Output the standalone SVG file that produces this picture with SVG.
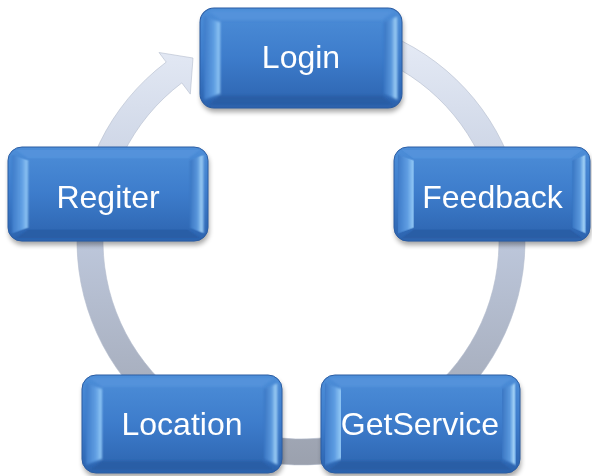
<svg xmlns="http://www.w3.org/2000/svg" xmlns:xlink="http://www.w3.org/1999/xlink" width="592" height="476" viewBox="0 0 592 476">
  <style>
    .lbl { fill: #ffffff; font-family: "Liberation Sans", Arial, sans-serif; font-size: 32px; text-anchor: middle; }
  </style>
  <defs>
    <linearGradient id="ringGrad" gradientUnits="userSpaceOnUse" x1="0" y1="17" x2="0" y2="465">
      <stop offset="0" stop-color="#e9eef8"/>
      <stop offset="0.5" stop-color="#bdc7db"/>
      <stop offset="1" stop-color="#9ba1ae"/>
    </linearGradient>
    <linearGradient id="boxGrad" x1="0" y1="0" x2="0" y2="1">
      <stop offset="0" stop-color="#4d8ed8"/>
      <stop offset="0.5" stop-color="#3d7ccb"/>
      <stop offset="1" stop-color="#2c63ae"/>
    </linearGradient>
    <linearGradient id="leftBev" x1="0" y1="0" x2="1" y2="0">
      <stop offset="0" stop-color="#3f7cc9"/>
      <stop offset="0.6" stop-color="#5e9de2"/>
      <stop offset="1" stop-color="#95caf6"/>
    </linearGradient>
    <linearGradient id="rightBev" x1="0" y1="0" x2="1" y2="0">
      <stop offset="0" stop-color="#3a76c3"/>
      <stop offset="0.55" stop-color="#5a98dd"/>
      <stop offset="0.85" stop-color="#a2d2f6"/>
      <stop offset="1" stop-color="#4f8cd6"/>
    </linearGradient>
    <filter id="shadow" x="-10%" y="-10%" width="120%" height="130%">
      <feGaussianBlur stdDeviation="2.5"/>
    </filter>
    <filter id="soft" x="-10%" y="-10%" width="120%" height="120%">
      <feGaussianBlur stdDeviation="0.8"/>
    </filter>
    <g id="box">
      <rect x="1" y="4" width="200" height="98" rx="14" fill="#000" opacity="0.35" filter="url(#shadow)"/>
      <rect x="0" y="0" width="200" height="98" rx="14" fill="url(#boxGrad)" stroke="#2a5ca3" stroke-width="1"/>
      <g filter="url(#soft)">
        <polygon points="8,3 192,3 180,12 20,12" fill="#5594dc" opacity="0.8"/>
        <polygon points="8,95 192,95 180,86 20,86" fill="#2a5ca4" opacity="0.9"/>
        <polygon points="4,8 20,14 20,84 4,90" fill="url(#leftBev)"/>
        <polygon points="196,8 182,14 182,84 196,90" fill="url(#rightBev)"/>
      </g>
    </g>
  </defs>
  <rect width="592" height="476" fill="#ffffff"/>

  <g id="connectors">
    <path d="M301,17 A224,224 0 1 1 166.2,62.1 L159,52.5 L193,58 L190.3,94.1 L181.8,82.9 A198,198 0 1 0 301,43 Z" fill="url(#ringGrad)" stroke="#b3bccd" stroke-width="0.6"/>
  </g>

  <g id="node-login">
    <use href="#box" xlink:href="#box" transform="translate(200,8) scale(1.01,1.02)"/>
    <text class="lbl" x="301" y="68">Login</text>
  </g>
  <g id="node-regiter">
    <use href="#box" xlink:href="#box" transform="translate(8,147) scale(1,0.96)"/>
    <text class="lbl" x="108" y="208">Regiter</text>
  </g>
  <g id="node-feedback">
    <use href="#box" xlink:href="#box" transform="translate(394,147) scale(0.98,0.96)"/>
    <text class="lbl" x="492.5" y="208">Feedback</text>
  </g>
  <g id="node-location">
    <use href="#box" xlink:href="#box" transform="translate(82,375)"/>
    <text class="lbl" x="182" y="435">Location</text>
  </g>
  <g id="node-getservice">
    <use href="#box" xlink:href="#box" transform="translate(321,375) scale(0.995,1)"/>
    <text class="lbl" x="420" y="435">GetService</text>
  </g>
</svg>
